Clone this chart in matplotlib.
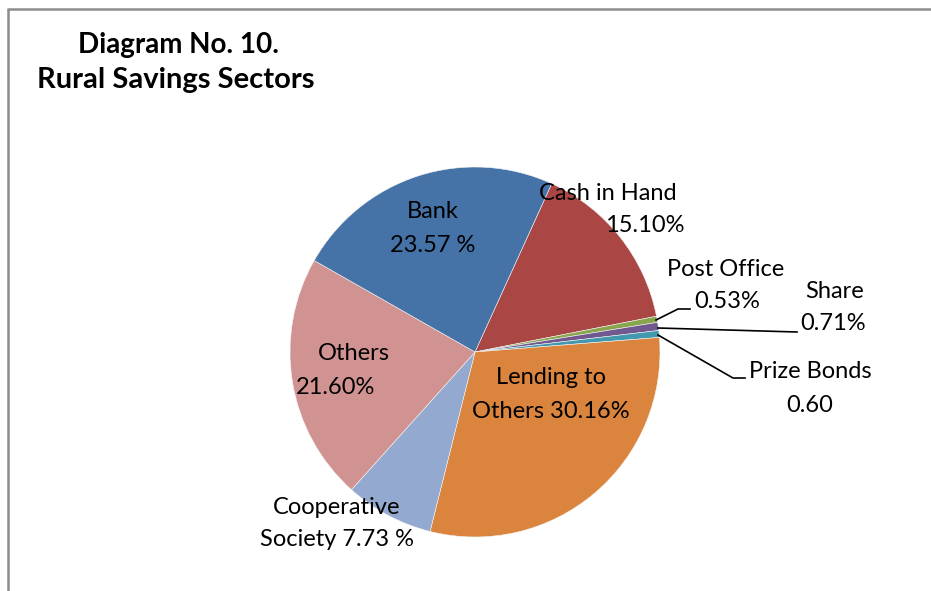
import matplotlib.pyplot as plt

# savings sectors, clockwise from the Bank / Cash in Hand boundary
sectors = ['Cash in Hand', 'Post Office', 'Share', 'Prize Bonds',
           'Lending to Others', 'Cooperative Society', 'Others', 'Bank']
shares = [15.10, 0.53, 0.71, 0.60, 30.16, 7.73, 21.60, 23.57]
colors = ['#AA4643', '#89A54E', '#71588F', '#4198AF',
          '#DB843D', '#93A9CF', '#D19392', '#4572A7']

W, H = 931, 591
fig = plt.figure(figsize=(W / 100, H / 100), dpi=100)
ax = fig.add_axes([0, 0, 1, 1])

cx, cy, r = 475, H - 352, 185
ax.pie(shares, colors=colors, startangle=65.5, counterclock=False,
       center=(cx, cy), radius=r,
       wedgeprops=dict(edgecolor='#f4f4f4', linewidth=0.4))
ax.set_xlim(0, W)
ax.set_ylim(0, H)
ax.set_aspect('equal')
ax.axis('off')

font = 'Lato'
lbl = dict(fontsize=17, family=font, ha='center', va='center', color='black')


def put(x, y, s, **kw):
    opts = dict(lbl)
    opts.update(kw)
    ax.text(x, H - y, s, **opts)


put(433, 211, 'Bank')
put(433, 245, '23.57 %')
put(608, 193, 'Cash in Hand')
put(645, 226, '15.10%')
put(726, 269, 'Post Office')
put(727, 301, '0.53%')
put(835, 291, 'Share')
put(833, 324, '0.71%')
put(810, 372, 'Prize Bonds')
put(810, 405, '0.60')
put(551, 378, 'Lending to')
put(551, 411, 'Others 30.16%')
put(337, 507, 'Cooperative')
put(337, 540, 'Society 7.73 %')
put(354, 354, 'Others')
put(336, 387, '21.60%')

# leader lines for the thin slices
leaders = [
    [(656, 320), (678, 309), (690, 309)],
    [(658, 328), (797, 332)],
    [(658, 335), (733, 378), (745, 378)],
]
for pts in leaders:
    ax.plot([p[0] for p in pts], [H - p[1] for p in pts], color='black', lw=1.2)

# title
ax.text(178, H - 45, 'Diagram No. 10.', fontsize=20, family=font,
        fontweight='bold', ha='center', va='center')
ax.text(176, H - 80, 'Rural Savings Sectors', fontsize=21, family=font,
        fontweight='bold', ha='center', va='center')

# chart area frame (top and left edges only)
ax.plot([7, W], [H - 9, H - 9], color='#8c8c8c', lw=1.8, solid_capstyle='butt')
ax.plot([7.5, 7.5], [0, H - 9], color='#8c8c8c', lw=1.8, solid_capstyle='butt')

fig.savefig('out.png', dpi=100)
